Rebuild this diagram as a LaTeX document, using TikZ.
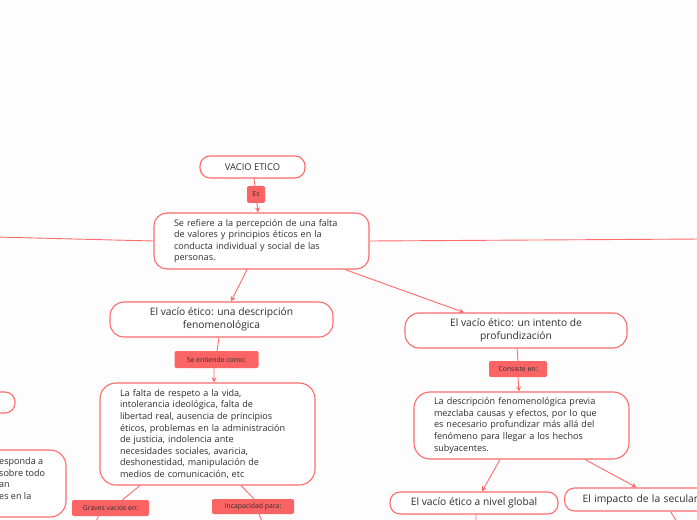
\documentclass[tikz,border=0pt]{standalone}
\usepackage{fontspec}
\setmainfont{Open Sans}
\usetikzlibrary{arrows.meta}
\definecolor{linec}{HTML}{FF6B6B}
\definecolor{labelc}{HTML}{FA6464}
\definecolor{txt}{HTML}{2E2E2E}
\definecolor{bg}{HTML}{FDFDFD}
\tikzset{
  conn/.style={draw=linec, line width=0.9bp},
  arr/.style={conn, -{Stealth[length=5bp,width=5bp]}},
  box/.style={draw=linec, line width=1.1bp, fill=white, rounded corners=13bp, text=txt, inner sep=0pt},
  pill/.style={draw=linec, line width=1.1bp, fill=white, rounded corners=10bp, text=txt, inner sep=0pt, font=\fontsize{10.3}{12.8}\selectfont},
  body/.style={box, align=left, font=\fontsize{9.1}{11.6}\selectfont},
  tag/.style={fill=labelc, rounded corners=2bp, text=txt, inner sep=0pt, font=\fontsize{6.9}{8}\selectfont}
}
\begin{document}
\begin{tikzpicture}[x=1bp,y=-1bp]
\fill[bg] (0,0) rectangle (697,520);
\useasboundingbox (0,0) rectangle (697,520);
\clip (0,0) rectangle (697,520);

% off-page free ends
\coordinate (lend) at (-5,237);
\coordinate (rend) at (702,239);
\coordinate (gend) at (94,526);
\coordinate (iend) at (264,526);
\coordinate (glend) at (476,526);
\coordinate (imend) at (680,527);

% nodes
\node[pill, minimum width=105bp, minimum height=22bp, font=\fontsize{9.4}{11}\selectfont] (vacio) at (252.5,167) {VACIO ETICO};
\node[tag, minimum width=18bp, minimum height=17bp] (es) at (256,194.5) {Es};
\node[body, text width=175bp, inner xsep=20bp, minimum height=56bp, line width=1.1bp] (main) at (261.5,241)
  {Se refiere a la percepción de una falta\\de valores y principios éticos en la\\conducta individual y social de las\\personas.};
\node[pill, minimum width=223bp, minimum height=35bp, align=center, rounded corners=14bp] (desc) at (221.5,319.5)
  {El vacío ético: una descripción\\fenomenológica};
\node[pill, minimum width=222bp, minimum height=35bp, align=center, rounded corners=14bp] (prof) at (516,330.5)
  {El vacío ético: un intento de\\profundización};
\node[tag, minimum width=84bp, minimum height=17bp] (ent) at (216.5,359.5) {Se entiende como:};
\node[body, text width=175bp, inner xsep=20bp, minimum height=102bp, rounded corners=16bp] (falta) at (207.5,434)
  {La falta de respeto a la vida,\\intolerancia ideológica, falta de\\libertad real, ausencia de principios\\éticos, problemas en la administración\\de justicia, indolencia ante\\necesidades sociales, avaricia,\\deshonestidad, manipulación de\\medios de comunicación, etc};
\node[tag, minimum width=77bp, minimum height=16bp] (graves) at (110.5,508) {Graves vacios en:};
\node[tag, minimum width=82bp, minimum height=15bp] (incap) at (253,506.5) {Incapacidad para:};
\node[tag, minimum width=58bp, minimum height=16bp] (cons) at (518,369) {Consiste en:};
\node[body, text width=175bp, inner xsep=20bp, minimum height=67bp, rounded corners=16bp] (descr) at (521.5,425.5)
  {La descripción fenomenológica previa\\mezclaba causas y efectos, por lo que\\es necesario profundizar más allá del\\fenómeno para llegar a los hechos\\subyacentes.};
\node[pill, minimum width=168bp, minimum height=22bp] (global) at (474,503) {El vacío ético a nivel global};
\node[pill, minimum width=200bp, minimum height=23bp, anchor=west, inner xsep=18bp, text width=164bp, align=left] (impacto) at (564,499.5) {El impacto de la secularización};
% left cut boxes
\node[pill, minimum width=95bp, minimum height=21bp] (lb1) at (-32.5,402.5) {};
\node[body, minimum width=216bp, minimum height=67bp, rounded corners=16bp] (lb2) at (-42,483.5) {};
\node[anchor=west, align=left, text=txt, inner sep=0pt, font=\fontsize{9.1}{11.6}\selectfont] (lb2t) at (-1,478.5)
  {esponda a\\sobre todo\\an\\es en la};

% connectors
\draw[conn] ([xshift=1.5bp]vacio.south) -- ([xshift=-1bp]es.north);
\draw[arr] ([xshift=1bp]es.south) -- ([xshift=-3.5bp]main.north);
\draw[conn] (main.west) -- (lend);
\draw[conn] (main.east) -- (rend);
\draw[arr] ([xshift=-14.5bp]main.south) -- ([xshift=9.5bp]desc.north);
\draw[arr] ([xshift=83.5bp]main.south) -- ([xshift=-52bp]prof.north);
\draw[conn] ([xshift=-2.5bp]desc.south) -- ([xshift=0.5bp]ent.north);
\draw[arr] ([xshift=-2.5bp]ent.south) -- ([xshift=6.5bp]falta.north);
\draw[conn] ([xshift=-67.5bp]falta.south) -- ([xshift=12bp]graves.north);
\draw[conn] ([xshift=-12bp]graves.south) -- (gend);
\draw[conn] ([xshift=33.5bp]falta.south) -- ([xshift=1bp]incap.north);
\draw[conn] ([xshift=6bp]incap.south) -- (iend);
\draw[conn] ([xshift=1bp]prof.south) -- (cons.north);
\draw[arr] (cons.south) -- ([xshift=-2.5bp]descr.north);
\draw[arr] ([xshift=-21.5bp]descr.south) -- ([xshift=8bp]global.north);
\draw[arr] ([xshift=63.5bp]descr.south) -- ([xshift=-28bp]impacto.north);
\draw[conn] ([xshift=2bp]global.south) -- (glend);
\draw[conn] ([xshift=6bp]impacto.south) -- (imend);
\end{tikzpicture}
\end{document}
